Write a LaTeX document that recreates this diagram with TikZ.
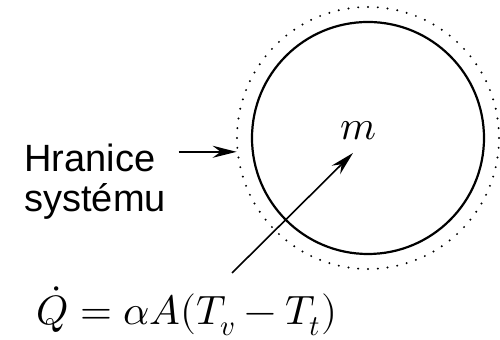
\documentclass[tikz,border=0pt]{standalone}
\usepackage{fontspec}
\usepackage{unicode-math}
\setsansfont{Liberation Sans}
\usetikzlibrary{arrows.meta,calc,positioning}

\begin{document}
\begin{tikzpicture}[x=0.5pt,y=-0.5pt,
        pointer/.style={-{Stealth[length=12pt,width=6pt,inset=4pt]},line width=0.8pt},
        textlabel/.style={font=\sffamily\fontsize{19}{20}\selectfont,inner sep=0pt},
        mathlabel/.style={font=\fontsize{20.5}{24}\selectfont,inner sep=0pt}]
        \useasboundingbox (0,0) rectangle (500,340);
        % Draw the system and its boundary
        \node[circle,draw,line width=1.1pt,minimum size=116pt,inner sep=0pt] (system) at (368,138) {};
        \node[circle,draw,line width=1.1pt,line cap=round,dash pattern=on 0pt off 4.9pt,
              minimum size=131pt,inner sep=0pt] (boundary) at (368,138) {};
        \node[mathlabel] (m) at (358,131) {$m$};
        %boundary label
        \node[textlabel,anchor=base west] (hranice) at (24,172) {Hranice};
        \node[textlabel,anchor=base west] (systemu) at ([yshift=-20pt]hranice.base west) {systému};
        \coordinate (hit) at (boundary.186);
        \draw[pointer] (hranice.east |- hit) ++(11.5pt,0) -- (hit);
        % heat flow
        \node[mathlabel,anchor=base west] (heat) at (36,325) {$\dot Q = \alpha A(T_v - T_t)$};
        \coordinate (tail) at (232,273);
        \draw[pointer] (tail) -- ([shift={(-7.5pt,-7.5pt)}]system.center);
\end{tikzpicture}
\end{document}
